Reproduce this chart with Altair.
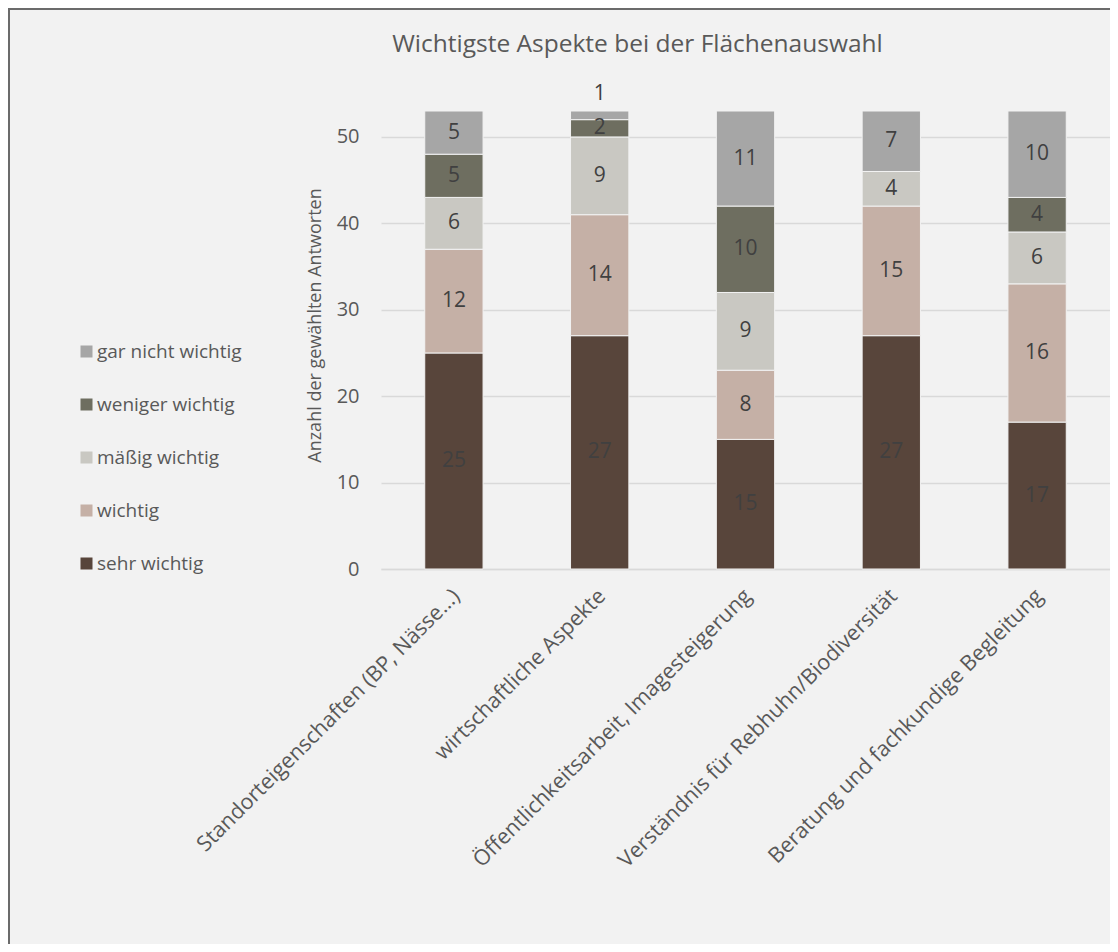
import altair as alt
import pandas as pd

categories = [
    "Standorteigenschaften (BP, Nässe…)",
    "wirtschaftliche Aspekte",
    "Öffentlichkeitsarbeit, Imagesteigerung",
    "Verständnis für Rebhuhn/Biodiversität",
    "Beratung und fachkundige Begleitung",
]
levels = ["sehr wichtig", "wichtig", "mäßig wichtig", "weniger wichtig", "gar nicht wichtig"]
sehr_wichtig = [25, 27, 15, 27, 17]
wichtig = [12, 14, 8, 15, 16]
maessig_wichtig = [6, 9, 9, 4, 6]
weniger_wichtig = [5, 2, 10, 0, 4]
gar_nicht_wichtig = [5, 1, 11, 7, 10]
level_colors = ["#58453B", "#C5B0A6", "#C9C8C2", "#6E6E60", "#A6A6A6"]
y_ticks = [0, 10, 20, 30, 40, 50]

series = [sehr_wichtig, wichtig, maessig_wichtig, weniger_wichtig, gar_nicht_wichtig]
rows = []
for r, (lvl, vals) in enumerate(zip(levels, series)):
    for c, v in zip(categories, vals):
        rows.append({"cat": c, "level": lvl, "rank": r, "value": v})
df = pd.DataFrame(rows)

legend_order = levels[::-1]
legend_colors = level_colors[::-1]

FONT = "Open Sans"
GREY = "#595959"
W, H = 729, 458

base = (
    alt.Chart(df)
    .transform_filter("datum.value > 0")
    .transform_stack(
        stack="value",
        groupby=["cat"],
        as_=["y0", "y1"],
        sort=[alt.SortField("rank", order="ascending")],
    )
)

xaxis = alt.Axis(
    title=None,
    labelAngle=-45,
    labelFontSize=21.5,
    labelColor=GREY,
    labelFont=FONT,
    labelLimit=600,
    labelPadding=16,
    labelOffset=-5,
    ticks=False,
    domainColor="#D9D9D9",
    domainWidth=1.5,
)
yaxis = alt.Axis(
    values=y_ticks,
    title="Anzahl der gewählten Antworten",
    titleFontSize=18,
    titleFont=FONT,
    titleFontWeight="normal",
    titleColor=GREY,
    titlePadding=12,
    titleY=214,
    labelFontSize=20,
    labelFont=FONT,
    labelColor=GREY,
    labelPadding=22,
    ticks=False,
    domain=False,
    gridColor="#D9D9D9",
    gridWidth=1.5,
)
yscale = alt.Scale(domain=[0, 53], nice=False, zero=True)
xscale = alt.Scale(paddingInner=0.6, paddingOuter=0.3)

bars = base.mark_bar(stroke="#F2F2F2", strokeWidth=1).encode(
    x=alt.X("cat:N", sort=categories, scale=xscale, axis=xaxis),
    y=alt.Y("y0:Q", scale=yscale, axis=yaxis),
    y2="y1",
    color=alt.Color(
        "level:N",
        scale=alt.Scale(domain=legend_order, range=legend_colors),
        legend=alt.Legend(
            title=None,
            orient="none",
            legendX=-304,
            legendY=231,
            symbolType="square",
            symbolSize=144,
            symbolStrokeWidth=0,
            labelFontSize=19,
            labelFont=FONT,
            labelColor=GREY,
            rowPadding=33,
            labelOffset=1,
        ),
    ),
)

labels = (
    base.transform_calculate(
        ly="datum.value <= 1 ? datum.y1 + 2 : (datum.y0 + datum.y1) / 2"
    )
    .mark_text(fontSize=21, font=FONT, color="#404040", baseline="middle")
    .encode(
        x=alt.X("cat:N", sort=categories, scale=xscale, axis=xaxis),
        y=alt.Y("ly:Q", scale=yscale, axis=yaxis),
        text=alt.Text("value:Q"),
    )
)

border_data = alt.Data(values=[{"k": 1}])
left_border = alt.Chart(border_data).mark_rule(color="#6B6B6B", strokeWidth=2).encode(
    x=alt.value(-372), y=alt.value(-103), y2=alt.value(H + 375)
)
top_border = alt.Chart(border_data).mark_rule(color="#6B6B6B", strokeWidth=2).encode(
    x=alt.value(-373), x2=alt.value(W), y=alt.value(-102)
)

chart = (
    alt.layer(bars, labels, left_border, top_border)
    .properties(
        width=W,
        height=H,
        title=alt.TitleParams(
            "Wichtigste Aspekte bei der Flächenauswahl",
            fontSize=24.5,
            font=FONT,
            fontWeight="normal",
            color=GREY,
            anchor="middle",
            dx=-108,
            offset=-50,
        ),
        autosize=alt.AutoSizeParams(type="none"),
        padding={"left": 373, "top": 103, "right": 0, "bottom": 375},
    )
    .configure(background="#F2F2F2")
    .configure_view(stroke=None)
)

chart.save("out.html", embed_options={"renderer": "svg", "actions": False})
